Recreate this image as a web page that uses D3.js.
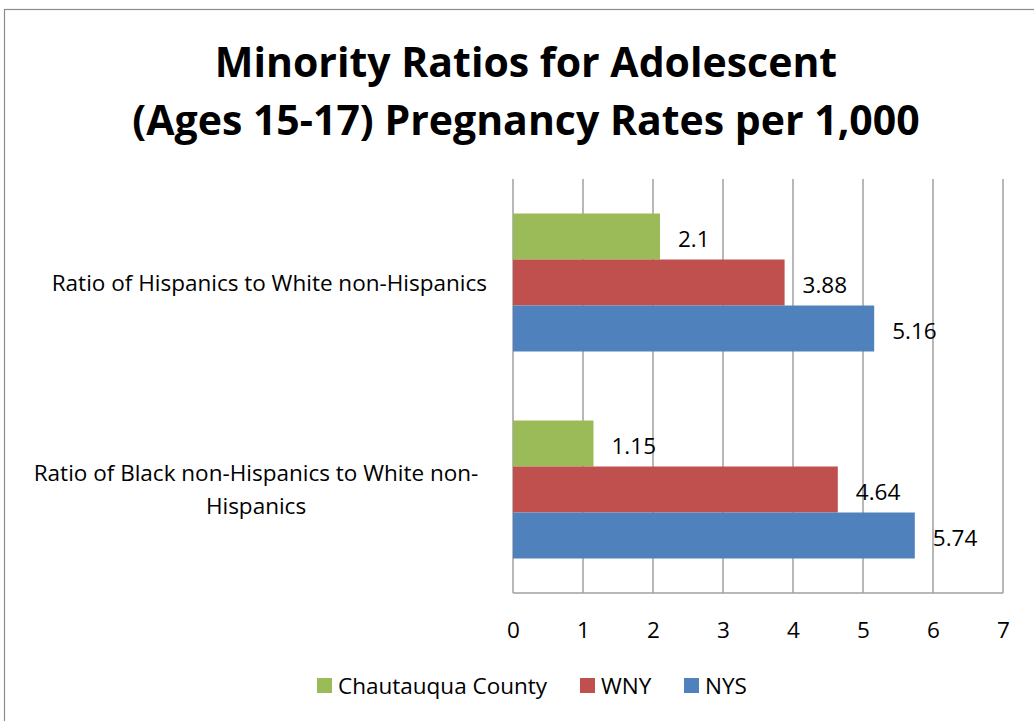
<!DOCTYPE html>
<html><head><meta charset="utf-8">
<script src="https://cdn.jsdelivr.net/npm/d3@7"></script>
<style>body{margin:0;background:#fff}svg{display:block}text{font-family:"Open Sans",sans-serif}</style>
</head><body>
<svg id="c" width="1034" height="721"></svg>
<script>
const categories = ["Ratio of Hispanics to White non-Hispanics", "Ratio of Black non-Hispanics to White non-Hispanics"];
const categoryLines = [["Ratio of Hispanics to White non-Hispanics"], ["Ratio of Black non-Hispanics to White non-", "Hispanics"]];
const seriesNames = ["Chautauqua County", "WNY", "NYS"];
const chautauqua = [2.1, 1.15];
const wny = [3.88, 4.64];
const nys = [5.16, 5.74];
const xTicks = [0, 1, 2, 3, 4, 5, 6, 7];
const colors = ["#9BBB59", "#C0504D", "#4F81BD"];
const titleLines = ["Minority Ratios for Adolescent", "(Ages 15-17) Pregnancy Rates per 1,000"];

const FS = 22.5;
const series = [chautauqua, wny, nys];
const svg = d3.select("#c");
svg.append("rect").attr("x",4.5).attr("y",9.5).attr("width",1040).attr("height",720)
  .attr("fill","none").attr("stroke","#8c8c8c").attr("stroke-width",1.2);

const x = d3.scaleLinear().domain([0,7]).range([513,1003]);
const y0 = d3.scaleBand().domain(categories).range([179,593]);
const groupPad = 1/6;

svg.append("g").selectAll("text").data(titleLines).join("text")
  .attr("x",526).attr("y",(d,i)=>77+i*58).attr("text-anchor","middle")
  .attr("font-size",41).attr("font-weight","bold").attr("fill","#000").text(d=>d);

svg.append("g").selectAll("line").data(xTicks).join("line")
  .attr("x1",d=>x(d)).attr("x2",d=>x(d)).attr("y1",179).attr("y2",593)
  .attr("stroke","#a0a0a0").attr("stroke-width",1.5);
svg.append("line").attr("x1",513).attr("x2",1003).attr("y1",593).attr("y2",593)
  .attr("stroke","#a0a0a0").attr("stroke-width",1.5);

const xAxis = d3.axisBottom(x).tickValues(xTicks).tickSize(0).tickPadding(0).tickFormat(d3.format("d"));
const gx = svg.append("g").attr("transform","translate(0,638)").call(xAxis);
gx.select(".domain").remove();
gx.selectAll("text").attr("font-size",FS).attr("fill","#000").attr("dy",0).attr("y",0)
  .style("font-family","'Open Sans', sans-serif");

const bandOffset = y0.bandwidth()*groupPad;
const barH = (y0.bandwidth()*(1-2*groupPad))/3;
const barData = [];
categories.forEach((c,ci)=>{
  series.forEach((s,si)=>{ barData.push({c, ci, si, v:s[ci]}); });
});
const bars = svg.append("g");
bars.selectAll("rect").data(barData).join("rect")
  .attr("x",x(0)).attr("y",d=>y0(d.c)+bandOffset+d.si*barH)
  .attr("width",d=>x(d.v)-x(0)).attr("height",barH)
  .attr("fill",d=>colors[d.si]);
bars.selectAll("text").data(barData).join("text")
  .attr("x",d=>x(d.v)+18).attr("y",d=>y0(d.c)+bandOffset+d.si*barH+barH/2+10)
  .attr("font-size",FS).attr("fill","#000").text(d=>d.v);

const gc = svg.append("g");
categories.forEach((c,ci)=>{
  const lines = categoryLines[ci];
  const cy = y0(c)+y0.bandwidth()/2;
  lines.forEach((l,li)=>{
    gc.append("text").attr("x", lines.length>1?256:487).attr("text-anchor", lines.length>1?"middle":"end")
      .attr("y", cy + (li-(lines.length-1)/2)*33 + 8).attr("font-size",FS).attr("fill","#000").text(l);
  });
});

const legX = [317, 580, 684];
const lg = svg.append("g");
seriesNames.forEach((n,i)=>{
  lg.append("rect").attr("x",legX[i]).attr("y",678).attr("width",15).attr("height",15).attr("fill",colors[i]);
  lg.append("text").attr("x",legX[i]+21).attr("y",694).attr("font-size",FS).attr("fill","#000").text(n);
});
</script>
</body></html>
